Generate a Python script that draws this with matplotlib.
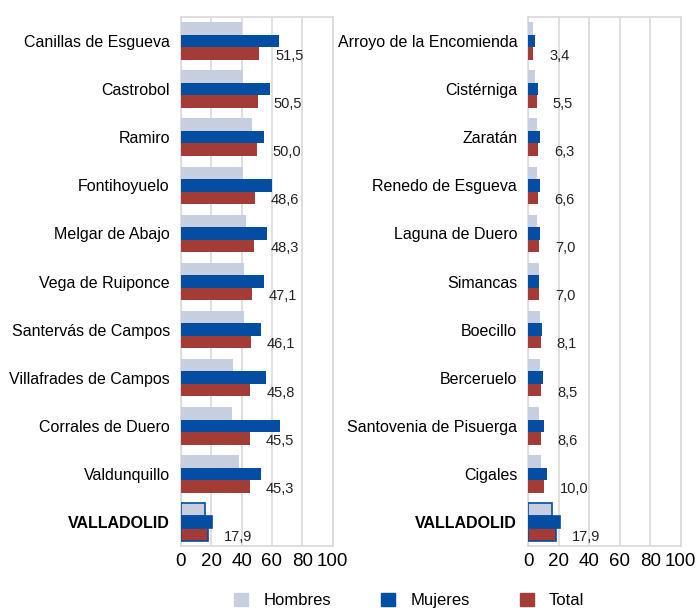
import matplotlib.pyplot as plt
from matplotlib.patches import Patch
import numpy as np

plt.rcParams['font.family'] = ['Liberation Sans', 'DejaVu Sans']

# left panel: highest values
left_names = ['Canillas de Esgueva', 'Castrobol', 'Ramiro', 'Fontihoyuelo',
              'Melgar de Abajo', 'Vega de Ruiponce', 'Santervás de Campos',
              'Villafrades de Campos', 'Corrales de Duero', 'Valdunquillo', 'VALLADOLID']
left_hombres = [40.0, 40.8, 47.0, 41.0, 43.0, 41.5, 41.4, 34.6, 33.5, 38.4, 15.6]
left_mujeres = [64.5, 59.0, 55.0, 60.3, 56.5, 54.6, 52.6, 56.0, 65.3, 52.6, 20.6]
left_total = [51.5, 50.5, 50.0, 48.6, 48.3, 47.1, 46.1, 45.8, 45.5, 45.3, 17.9]

# right panel: lowest values
right_names = ['Arroyo de la Encomienda', 'Cistérniga', 'Zaratán', 'Renedo de Esgueva',
               'Laguna de Duero', 'Simancas', 'Boecillo', 'Berceruelo',
               'Santovenia de Pisuerga', 'Cigales', 'VALLADOLID']
right_hombres = [3.0, 4.5, 5.5, 6.0, 6.0, 7.0, 7.6, 7.8, 7.2, 8.5, 15.5]
right_mujeres = [4.1, 6.5, 7.6, 7.8, 8.0, 7.0, 9.0, 9.8, 10.3, 12.0, 20.7]
right_total = [3.4, 5.5, 6.3, 6.6, 7.0, 7.0, 8.1, 8.5, 8.6, 10.0, 17.9]

xticks = [0, 20, 40, 60, 80, 100]

c_h = '#c6cee0'
c_m = '#034ea2'
c_t = '#a33b36'
c_grid = '#d9d9d9'


def fmt(v):
    return '{:.1f}'.format(v).replace('.', ',')


def panel(ax, names, hom, muj, tot):
    y = np.arange(len(names))
    h = 0.26
    n = len(names)
    # only the province row gets a blue outline
    edge = ['none'] * (n - 1) + [c_m]
    ax.barh(y - h, hom, height=h, color=c_h, edgecolor=edge, linewidth=1.2, zorder=3)
    ax.barh(y, muj, height=h, color=c_m, edgecolor=edge, linewidth=1.2, zorder=3)
    ax.barh(y + h, tot, height=h, color=c_t, edgecolor=edge, linewidth=1.2, zorder=3)
    for yi, t in zip(y, tot):
        ax.text(t + 10.5, yi + h + 0.05, fmt(t), va='center', ha='left', fontsize=10.5, color='#222222')
    ax.set_ylim(n - 0.5, -0.5)
    ax.set_xlim(0, 100)
    ax.set_xticks(xticks)
    ax.set_xticklabels([str(x) for x in xticks], fontsize=13.5)
    ax.set_yticks(y)
    ax.set_yticklabels(names, fontsize=11.5)
    ax.get_yticklabels()[-1].set_fontweight('bold')
    ax.tick_params(axis='y', length=0, pad=8)
    ax.tick_params(axis='x', length=0, pad=5)
    ax.grid(axis='x', color=c_grid, linewidth=1.2, zorder=0)
    for s in ax.spines.values():
        s.set_color(c_grid)
        s.set_linewidth(1.2)


fig = plt.figure(figsize=(6.96, 6.08), dpi=100)
ax1 = fig.add_axes([0.260, 0.102, 0.218, 0.870])
ax2 = fig.add_axes([0.759, 0.102, 0.219, 0.870])

panel(ax1, left_names, left_hombres, left_mujeres, left_total)
panel(ax2, right_names, right_hombres, right_mujeres, right_total)

handles = [Patch(color=c_h), Patch(color=c_m), Patch(color=c_t)]
fig.legend(handles, ['Hombres', 'Mujeres', 'Total'], loc='center', bbox_to_anchor=(0.588, 0.012),
           ncol=3, frameon=False, fontsize=12, handlelength=0.85, handleheight=0.85,
           columnspacing=3.0, handletextpad=0.9)

fig.savefig('out.png', dpi=100)
